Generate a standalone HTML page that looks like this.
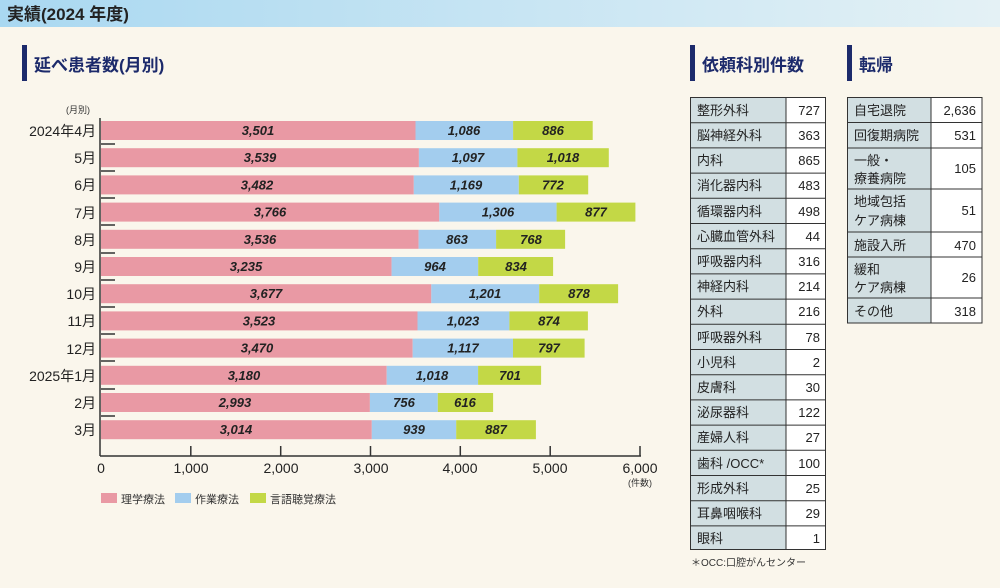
<!DOCTYPE html>
<html><head><meta charset="utf-8"><style>
body{margin:0;width:1000px;height:583px;background:#faf6ec;overflow:hidden;font-family:"Liberation Sans","Noto Sans CJK JP",sans-serif;}
</style></head><body>
<svg width="1000" height="583" xmlns="http://www.w3.org/2000/svg" font-family="Liberation Sans, Noto Sans CJK JP, sans-serif">
<defs><linearGradient id="hg" x1="0" x2="1"><stop offset="0" stop-color="#a9d8f1"/><stop offset="1" stop-color="#e4f1f5"/></linearGradient></defs>
<rect x="0" y="0" width="1000" height="27" fill="url(#hg)"/>
<text x="7" y="20" font-size="17" font-weight="bold" fill="#222">実績(2024 年度)</text>
<rect x="22" y="45" width="5" height="36" fill="#1c2a6b"/>
<text x="34" y="71" font-size="17" font-weight="bold" fill="#1c2a6b">延べ患者数(月別)</text>
<rect x="690" y="45" width="5" height="36" fill="#1c2a6b"/>
<text x="702" y="71" font-size="17" font-weight="bold" fill="#1c2a6b">依頼科別件数</text>
<rect x="847" y="45" width="5" height="36" fill="#1c2a6b"/>
<text x="859" y="71" font-size="17" font-weight="bold" fill="#1c2a6b">転帰</text>
<text x="66" y="113" font-size="9" fill="#333">(月別)</text>
<g font-size="13" font-weight="bold" font-style="italic" fill="#222" text-anchor="middle">
<g transform="translate(0,121)"><rect x="101" width="314.5" height="19" fill="#e999a4"/><rect x="415.5" width="97.6" height="19" fill="#a3cdee"/><rect x="513.1" width="79.6" height="19" fill="#c3d846"/><text x="258" y="14">3,501</text><text x="464" y="14">1,086</text><text x="553" y="14">886</text></g>
<g transform="translate(0,148.2)"><rect x="101" width="317.9" height="19" fill="#e999a4"/><rect x="418.9" width="98.5" height="19" fill="#a3cdee"/><rect x="517.4" width="91.4" height="19" fill="#c3d846"/><text x="260" y="14">3,539</text><text x="468" y="14">1,097</text><text x="563" y="14">1,018</text></g>
<g transform="translate(0,175.4)"><rect x="101" width="312.8" height="19" fill="#e999a4"/><rect x="413.8" width="105" height="19" fill="#a3cdee"/><rect x="518.8" width="69.4" height="19" fill="#c3d846"/><text x="257" y="14">3,482</text><text x="466" y="14">1,169</text><text x="553" y="14">772</text></g>
<g transform="translate(0,202.6)"><rect x="101" width="338.3" height="19" fill="#e999a4"/><rect x="439.3" width="117.3" height="19" fill="#a3cdee"/><rect x="556.6" width="78.8" height="19" fill="#c3d846"/><text x="270" y="14">3,766</text><text x="498" y="14">1,306</text><text x="596" y="14">877</text></g>
<g transform="translate(0,229.8)"><rect x="101" width="317.6" height="19" fill="#e999a4"/><rect x="418.6" width="77.5" height="19" fill="#a3cdee"/><rect x="496.1" width="69" height="19" fill="#c3d846"/><text x="260" y="14">3,536</text><text x="457" y="14">863</text><text x="531" y="14">768</text></g>
<g transform="translate(0,257)"><rect x="101" width="290.6" height="19" fill="#e999a4"/><rect x="391.6" width="86.6" height="19" fill="#a3cdee"/><rect x="478.2" width="74.9" height="19" fill="#c3d846"/><text x="246" y="14">3,235</text><text x="435" y="14">964</text><text x="516" y="14">834</text></g>
<g transform="translate(0,284.2)"><rect x="101" width="330.3" height="19" fill="#e999a4"/><rect x="431.3" width="107.9" height="19" fill="#a3cdee"/><rect x="539.2" width="78.9" height="19" fill="#c3d846"/><text x="266" y="14">3,677</text><text x="485" y="14">1,201</text><text x="579" y="14">878</text></g>
<g transform="translate(0,311.4)"><rect x="101" width="316.5" height="19" fill="#e999a4"/><rect x="417.5" width="91.9" height="19" fill="#a3cdee"/><rect x="509.4" width="78.5" height="19" fill="#c3d846"/><text x="259" y="14">3,523</text><text x="463" y="14">1,023</text><text x="549" y="14">874</text></g>
<g transform="translate(0,338.6)"><rect x="101" width="311.7" height="19" fill="#e999a4"/><rect x="412.7" width="100.3" height="19" fill="#a3cdee"/><rect x="513" width="71.6" height="19" fill="#c3d846"/><text x="257" y="14">3,470</text><text x="463" y="14">1,117</text><text x="549" y="14">797</text></g>
<g transform="translate(0,365.8)"><rect x="101" width="285.7" height="19" fill="#e999a4"/><rect x="386.7" width="91.4" height="19" fill="#a3cdee"/><rect x="478.1" width="63" height="19" fill="#c3d846"/><text x="244" y="14">3,180</text><text x="432" y="14">1,018</text><text x="510" y="14">701</text></g>
<g transform="translate(0,393)"><rect x="101" width="268.9" height="19" fill="#e999a4"/><rect x="369.9" width="67.9" height="19" fill="#a3cdee"/><rect x="437.8" width="55.3" height="19" fill="#c3d846"/><text x="235" y="14">2,993</text><text x="404" y="14">756</text><text x="465" y="14">616</text></g>
<g transform="translate(0,420.2)"><rect x="101" width="270.8" height="19" fill="#e999a4"/><rect x="371.8" width="84.4" height="19" fill="#a3cdee"/><rect x="456.2" width="79.7" height="19" fill="#c3d846"/><text x="236" y="14">3,014</text><text x="414" y="14">939</text><text x="496" y="14">887</text></g>
</g>
<g font-size="14" fill="#222" text-anchor="end">
<text x="96" y="136">2024年4月</text><text x="96" y="163">5月</text><text x="96" y="190">6月</text><text x="96" y="218">7月</text><text x="96" y="245">8月</text><text x="96" y="272">9月</text><text x="96" y="299">10月</text><text x="96" y="326">11月</text><text x="96" y="354">12月</text><text x="96" y="381">2025年1月</text><text x="96" y="408">2月</text><text x="96" y="435">3月</text>
</g>
<g stroke="#333" stroke-width="1.5">
<line x1="100" y1="118" x2="100" y2="456"/>
<line x1="100" y1="456" x2="641" y2="456"/>
<path d="M101 144H115M101 171H115M101 198H115M101 225H115M101 253H115M101 280H115M101 307H115M101 334H115M101 361H115M101 389H115M101 416H115"/>
<path d="M190.8 446V456M280.7 446V456M370.5 446V456M460.3 446V456M550.2 446V456M640 446V456"/>
</g>
<g font-size="14" fill="#222" text-anchor="middle">
<text x="101" y="473">0</text><text x="191" y="473">1,000</text><text x="281" y="473">2,000</text><text x="371" y="473">3,000</text><text x="460" y="473">4,000</text><text x="550" y="473">5,000</text><text x="640" y="473">6,000</text>
</g>
<text x="652" y="486" font-size="9" fill="#333" text-anchor="end">(件数)</text>
<g font-size="11" fill="#333">
<rect x="101" y="493" width="16" height="10" fill="#e999a4"/><text x="121" y="503">理学療法</text>
<rect x="175" y="493" width="16" height="10" fill="#a3cdee"/><text x="195" y="503">作業療法</text>
<rect x="250" y="493" width="16" height="10" fill="#c3d846"/><text x="270" y="503">言語聴覚療法</text>
</g>
<g stroke="#333" stroke-width="1">
<rect x="690.5" y="97.5" width="95.5" height="452" fill="#d2dfe2"/>
<rect x="786" y="97.5" width="39.5" height="452" fill="#fff"/>
<path d="M690 122.7H826M690 147.9H826M690 173.1H826M690 198.3H826M690 223.5H826M690 248.7H826M690 273.9H826M690 299.1H826M690 324.3H826M690 349.5H826M690 374.7H826M690 399.9H826M690 425.1H826M690 450.3H826M690 475.5H826M690 500.7H826M690 525.9H826"/>
<rect x="847.5" y="97.5" width="83.5" height="225.5" fill="#d2dfe2"/>
<rect x="931" y="97.5" width="51" height="225.5" fill="#fff"/>
<path d="M847 122.5H982M847 148H982M847 189H982M847 232H982M847 257H982M847 298H982"/>
</g>
<g font-size="13" fill="#222">
<text x="697" y="115">整形外科</text><text x="697" y="140">脳神経外科</text><text x="697" y="165">内科</text><text x="697" y="190">消化器内科</text><text x="697" y="216">循環器内科</text><text x="697" y="241">心臓血管外科</text><text x="697" y="266">呼吸器内科</text><text x="697" y="291">神経内科</text><text x="697" y="316">外科</text><text x="697" y="342">呼吸器外科</text><text x="697" y="367">小児科</text><text x="697" y="392">皮膚科</text><text x="697" y="417">泌尿器科</text><text x="697" y="442">産婦人科</text><text x="697" y="468">歯科 /OCC*</text><text x="697" y="493">形成外科</text><text x="697" y="518">耳鼻咽喉科</text><text x="697" y="543">眼科</text>
<text x="854" y="115">自宅退院</text><text x="854" y="140">回復期病院</text><text x="854" y="165">一般・</text><text x="854" y="183">療養病院</text><text x="854" y="206">地域包括</text><text x="854" y="225">ケア病棟</text><text x="854" y="250">施設入所</text><text x="854" y="274">緩和</text><text x="854" y="292">ケア病棟</text><text x="854" y="316">その他</text>
</g>
<g font-size="13" fill="#222" text-anchor="end">
<text x="820" y="115">727</text><text x="820" y="140">363</text><text x="820" y="165">865</text><text x="820" y="190">483</text><text x="820" y="216">498</text><text x="820" y="241">44</text><text x="820" y="266">316</text><text x="820" y="291">214</text><text x="820" y="316">216</text><text x="820" y="342">78</text><text x="820" y="367">2</text><text x="820" y="392">30</text><text x="820" y="417">122</text><text x="820" y="442">27</text><text x="820" y="468">100</text><text x="820" y="493">25</text><text x="820" y="518">29</text><text x="820" y="543">1</text>
<text x="976" y="115">2,636</text><text x="976" y="140">531</text><text x="976" y="173">105</text><text x="976" y="215">51</text><text x="976" y="250">470</text><text x="976" y="282">26</text><text x="976" y="316">318</text>
</g>
<text x="691" y="566" font-size="10" fill="#333">＊OCC:口腔がんセンター</text>
</svg>
</body></html>
